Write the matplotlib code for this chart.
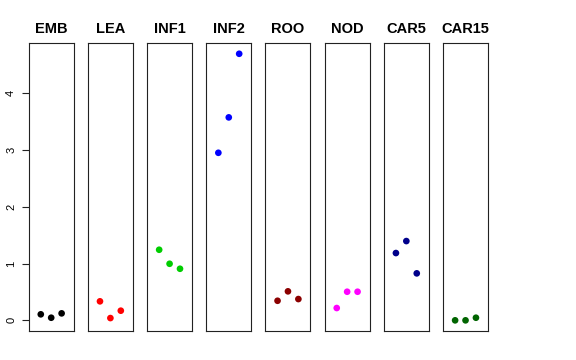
import matplotlib
matplotlib.use('Agg')
import matplotlib.pyplot as plt

plt.rcParams['font.family'] = ['Liberation Sans', 'DejaVu Sans']

groups = ["EMB", "LEA", "INF1", "INF2", "ROO", "NOD", "CAR5", "CAR15"]
colors = ["black", "#FF0000", "#00CD00", "#0000FF", "#8B0000", "#FF00FF", "#00008B", "#006400"]
reps = [1, 2, 3]
values = [
    [0.106, 0.046, 0.123],
    [0.335, 0.040, 0.170],
    [1.244, 0.997, 0.909],
    [2.953, 3.577, 4.698],
    [0.345, 0.511, 0.375],
    [0.217, 0.504, 0.504],
    [1.186, 1.397, 0.828],
    [0.000, 0.000, 0.046],
]
yticks = [0, 1, 2, 3, 4]

W, H = 576, 360
fig = plt.figure(figsize=(W / 100, H / 100), dpi=100)

ymin, ymax = 0.0, 4.70
pad = 0.04 * (ymax - ymin)

for i, (name, col, vals) in enumerate(zip(groups, colors, values)):
    left = 28.7 + 59.19 * i
    ax = fig.add_axes([left / W, 1 - 331 / H, 45 / W, 288 / H])
    ax.scatter(reps, vals, s=23, color=col, edgecolors='none', zorder=3)
    ax.set_xlim(-0.16, 4.16)
    ax.set_ylim(ymin - pad, ymax + pad)
    ax.set_xticks([])
    for sp in ax.spines.values():
        sp.set_linewidth(0.8)
        sp.set_color('#222222')
    ax.set_title(name, fontsize=10.5, fontweight='bold', pad=7)
    if i == 0:
        ax.set_yticks(yticks)
        ax.set_yticklabels([str(t) for t in yticks], rotation=90, va='center', fontsize=8)
        ax.tick_params(axis='y', length=5, width=0.8, pad=4, color='#222222')
    else:
        ax.set_yticks([])

fig.savefig('out.png', dpi=100)
